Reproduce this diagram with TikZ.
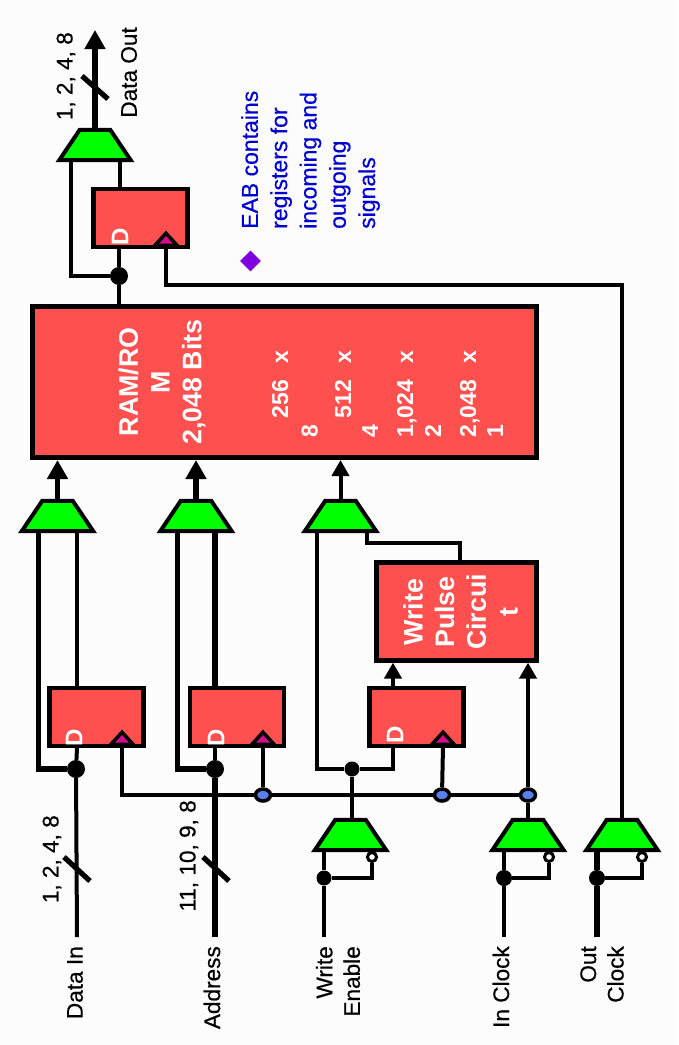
\documentclass[tikz,border=0pt]{standalone}
\usepackage{fontspec}
\setmainfont{Liberation Sans}
\newfontfamily\heavyfamily[FakeBold=0.5]{Liberation Sans}
\usetikzlibrary{shapes.geometric,arrows.meta}

\definecolor{blockred}{HTML}{FF5050}
\definecolor{muxgreen}{HTML}{00FF00}
\definecolor{tipmagenta}{HTML}{D0108A}
\definecolor{tapblue}{HTML}{5A80F0}
\definecolor{notepurple}{HTML}{8000E0}
\definecolor{noteblue}{HTML}{0000D0}
\definecolor{paper}{HTML}{FCFCFC}

\newcommand{\sigfont}{\heavyfamily\fontsize{22.6}{27.5}\selectfont}
\newcommand{\boxfont}{\fontsize{26.8}{31.7}\bfseries\selectfont}
\newcommand{\dimfont}{\fontsize{23}{26}\bfseries\selectfont}

\tikzset{
  wire/.style={line width=4pt},
  heavywire/.style={line width=5.2pt},
  bigtip/.style={-{Triangle[width=20pt,length=19pt]}},
  smalltip/.style={-{Triangle[width=17pt,length=16pt]}},
  muxbox/.style={draw, line width=4pt, fill=muxgreen, trapezium,
    trapezium left angle=56, trapezium right angle=56, minimum width=72pt, minimum height=30pt, inner sep=1pt},
  regbox/.style={draw, line width=4.2pt, fill=blockred, minimum width=94pt, minimum height=58pt, inner sep=0pt},
  clocktip/.style={draw, line width=3.5pt, fill=tipmagenta, isosceles triangle, isosceles triangle stretches=true,
    shape border rotate=90, minimum width=22pt, minimum height=12pt, inner sep=0pt, anchor=lower side},
  dotnode/.style={circle, fill=black, minimum size=#1, inner sep=0pt},
  tapnode/.style={ellipse, draw, line width=3.5pt, fill=tapblue, minimum width=15pt, minimum height=12pt, inner sep=0pt},
  invnode/.style={circle, draw, line width=3pt, fill=white, minimum size=9pt, inner sep=0pt},
  siglabel/.style={rotate=90, font=\sigfont, inner sep=0pt, align=right, anchor=east},
  boxlabel/.style={rotate=90, font=\boxfont, text=white, inner sep=0pt, align=center},
  dimlabel/.style={rotate=90, font=\dimfont, text=white, inner sep=0pt, anchor=east, text height=16pt, text depth=0pt},
  dlabel/.style={rotate=90, font=\fontsize{24}{26}\bfseries\selectfont, text=white, inner sep=0pt},
}

\begin{document}
\begin{tikzpicture}[x=1pt, y=-1pt]
\useasboundingbox[fill=paper] (0,0) rectangle (678,1045);

% Blocks
\node[draw, line width=5pt, fill=blockred, minimum width=504pt, minimum height=151pt, inner sep=0pt] (ram) at (284.5,382) {};
\node[draw, line width=4.2pt, fill=blockred, minimum width=160pt, minimum height=98pt, inner sep=0pt] (pulse) at (456.5,611.5) {};

% Registers
\node[regbox] (rego) at (140.5,218) {};
\node[regbox] (regd) at (96.5,717) {};
\node[regbox] (rega) at (237,717) {};
\node[regbox] (regw) at (416.5,717) {};

% Clock tips on the registers
\node[clocktip] (clko) at (166,247) {};
\node[clocktip] (clkd) at (122,746) {};
\node[clocktip] (clka) at (263,746) {};
\node[clocktip] (clkw) at (443,746) {};

% Muxes
\node[muxbox] (muxo) at (95,145) {};
\node[muxbox] (muxd) at (57.5,516) {};
\node[muxbox] (muxa) at (196,516) {};
\node[muxbox] (muxp) at (340.5,516) {};
\node[muxbox] (muxwe) at (350.5,835) {};
\node[muxbox] (muxic) at (528,835) {};
\node[muxbox] (muxoc) at (622,835) {};

% Junctions
\node[dotnode=18pt] (doto) at (119,276) {};
\node[dotnode=18pt] (dotd) at (76,769) {};
\node[dotnode=18pt] (dota) at (215,769) {};
\node[dotnode=15pt] (dotw) at (352,769) {};
\node[dotnode=15pt] (dotwe) at (324,878) {};
\node[dotnode=16pt] (dotic) at (504,878) {};
\node[dotnode=16pt] (dotoc) at (597,878) {};
\node[tapnode] (tapa) at (263,795) {};
\node[tapnode] (tapw) at (442,795) {};
\node[tapnode] (tapc) at (528,795) {};
\node[invnode] (invwe) at (372,857) {};
\node[invnode] (invic) at (549,857) {};
\node[invnode] (invoc) at (642,857) {};

% Free ends and turns
\coordinate (outend) at (95,30);
\coordinate (ind) at (77,937);
\coordinate (ina) at (215,937);
\coordinate (inwe) at (324,937);
\coordinate (inic) at (504,937);
\coordinate (inoc) at (597,937);
\coordinate (turnclk) at (622,285);
\coordinate (turnpulse) at (460,543);
\coordinate (slasho1) at (82,76);
\coordinate (slasho2) at (108,99);
\coordinate (slashd1) at (64,857);
\coordinate (slashd2) at (90,881);
\coordinate (slasha1) at (203,857);
\coordinate (slasha2) at (229,881);

% Output side
\draw[heavywire, bigtip] (muxo.north) -- (outend);
\draw[heavywire] (slasho1) -- (slasho2);
\draw[wire] ([xshift=25pt]muxo.south) -- ([xshift=-20.5pt]rego.north);
\draw[wire] (doto) -| ([xshift=-24pt]muxo.south);
\draw[wire] ([xshift=-21.5pt]rego.south) -- (doto);
\draw[wire] (doto) -- (doto |- ram.north);
\draw[wire] (clko.lower side) |- (turnclk) -- (muxoc.north);

% Data in
\draw[heavywire, bigtip] (muxd.north) -- (muxd.north |- ram.south);
\draw[wire] (ind) -- (dotd);
\draw[wire] (dotd) -- ([xshift=-19.5pt]regd.south);
\draw[heavywire] (dotd) -| ([xshift=-19pt]muxd.south);
\draw[wire] ([xshift=-19.5pt]regd.north) -- ([xshift=19.5pt]muxd.south);
\draw[heavywire] (slashd1) -- (slashd2);

% Address
\draw[heavywire, bigtip] (muxa.north) -- (muxa.north |- ram.south);
\draw[heavywire] (ina) -- (dota);
\draw[wire] (dota) -- ([xshift=-22pt]rega.south);
\draw[heavywire] (dota) -| ([xshift=-18.5pt]muxa.south);
\draw[heavywire] ([xshift=-22pt]rega.north) -- ([xshift=19pt]muxa.south);
\draw[heavywire] (slasha1) -- (slasha2);

% Write pulse path
\draw[wire, smalltip] (muxp.north) -- (muxp.north |- ram.south);
\draw[wire] (dotw) -| ([xshift=-23.5pt]muxp.south);
\draw[wire] (dotw) -| ([xshift=-23.5pt]regw.south);
\draw[wire] (muxwe.north -| dotw) -- (dotw);
\draw[wire] ([xshift=26.5pt]muxp.south) |- (turnpulse) -- (turnpulse |- pulse.north);
\draw[wire, smalltip] ([xshift=-23.5pt]regw.north) -- ([xshift=-63.5pt]pulse.south);
\draw[wire, smalltip] (tapc) -- (tapc |- pulse.south);

% Clock bus
\draw[wire] (clkd.lower side) |- (tapa.west);
\draw[wire] (tapa) -- (tapw);
\draw[wire] (tapw) -- (tapc);
\draw[wire] (tapa) -- (clka.lower side);
\draw[wire] (tapw) -- (clkw.lower side);
\draw[wire] (muxic.north) -- (tapc);

% Mux inputs with inverted select
\draw[wire] (inwe) -- (dotwe);
\draw[wire] (dotwe) -- (dotwe |- muxwe.south);
\draw[wire] (dotwe) -| (invwe);
\draw[wire] (inic) -- (dotic);
\draw[wire] (dotic) -- (dotic |- muxic.south);
\draw[wire] (dotic) -| (invic);
\draw[heavywire] (inoc) -- (dotoc);
\draw[heavywire] (dotoc) -- (dotoc |- muxoc.south);
\draw[wire] (dotoc) -| (invoc);

% Text on the blocks
\node[boxlabel] (ramtext) at (162,382) {RAM/RO\\M\\2,048 Bits};
\node[boxlabel] (pulsetext) at (460.5,612) {Write\\Pulse\\Circui\\t};
\node[dlabel] (dregd) at (74,738) {D};
\node[dlabel] (drega) at (216,738) {D};
\node[dlabel] (dregw) at (395,735) {D};
\node[dlabel] (drego) at (120,237) {D};

% Organisation columns
\node[dimlabel] (dima) at (280,350) {256\hspace{17pt}x};
\node[dimlabel] (dimb) at (343,350) {512\hspace{17pt}x};
\node[dimlabel] (dimc) at (405,350) {1,024\hspace{17pt}x};
\node[dimlabel] (dimd) at (468,350) {2,048\hspace{17pt}x};
\node[dimlabel] (widtha) at (309.5,425) {8};
\node[dimlabel] (widthb) at (370,425) {4};
\node[dimlabel] (widthc) at (433,425) {2};
\node[dimlabel] (widthd) at (495,425) {1};

% Signal labels
\node[siglabel] (labout) at (129,27) {Data Out};
\node[siglabel] (widtho) at (66,32) {1, 2, 4, 8};
\node[siglabel] (labd) at (75,946) {Data In};
\node[siglabel] (widthi) at (52,815) {1, 2, 4, 8};
\node[siglabel] (laba) at (212,946) {Address};
\node[siglabel] (widthaddr) at (189,800) {11, 10, 9, 8};
\node[siglabel] (labwe) at (338,946) {Write\\Enable};
\node[siglabel] (labic) at (501,946) {In Clock};
\node[siglabel] (laboc) at (602,946) {Out\\Clock};

% Note
\node[diamond, fill=notepurple, minimum size=21pt, inner sep=0pt] (bullet) at (250.5,261) {};
\node[rotate=90, text=noteblue, font=\heavyfamily\fontsize{23}{29.3}\selectfont, align=left, anchor=west, inner sep=0pt] (note) at (310.5,229)
  {EAB contains\\registers for\\incoming and\\outgoing\\signals};
\end{tikzpicture}
\end{document}
